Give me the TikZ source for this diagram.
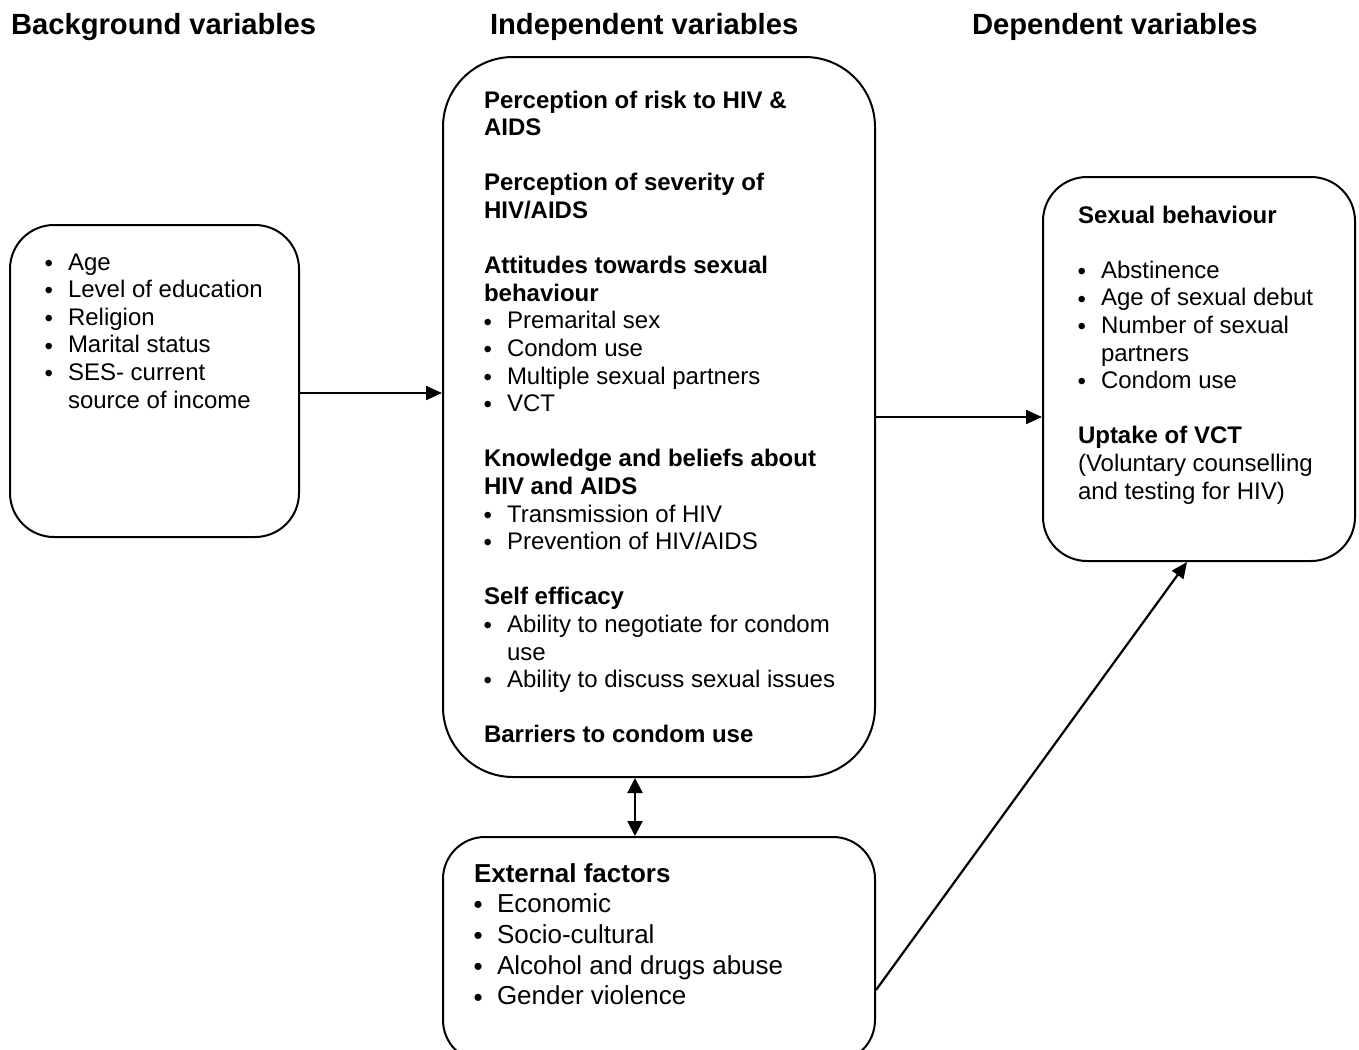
\documentclass[tikz,border=0pt]{standalone}
\usepackage{fontspec}
\usepackage{graphicx}
\setmainfont{Liberation Sans}
\usetikzlibrary{arrows.meta}
\newcommand{\bitem}[1]{\hbox{\makebox[11.5pt][l]{\hspace{-0.2pt}\raisebox{-0.6pt}{\scalebox{1.0}{•}}}#1}}
\newcommand{\bcont}[1]{\hbox{\hspace*{11.5pt}#1}}
\newcommand{\bhead}[1]{\hbox{\bfseries #1}}
\newcommand{\blank}{\hbox{}}
\begin{document}
\begin{tikzpicture}[x=0.5pt,y=-0.5pt,line width=1pt,
  box/.style={draw,line width=1pt,inner sep=0pt},
  txt/.style={inner sep=0pt,anchor=base west,font=\fontsize{12}{13.8}\selectfont},
  bigtxt/.style={inner sep=0pt,anchor=base west,font=\fontsize{13}{15.35}\selectfont},
  head/.style={inner sep=0pt,anchor=base west,font=\fontsize{14.6}{18}\selectfont\bfseries},
  arr/.style={line width=1.1pt,-{Triangle[length=8pt,width=7pt]}},
  darr/.style={line width=1.1pt,{Triangle[length=7.5pt,width=7.5pt]}-{Triangle[length=7.5pt,width=7.5pt]}}]
\useasboundingbox (0,0) rectangle (1359,1049);
\clip (0,0) rectangle (1359,1049);
\fill[white] (0,0) rectangle (1359,1049);

% headings
\node[head] (h1) at (10,34) {Background variables};
\node[head] (h2) at (489,34) {Independent variables};
\node[head] (h3) at (971,34) {Dependent variables};

% boxes
\node[box,rounded corners=22pt,minimum width=144.5pt,minimum height=156pt] (bg) at (154.5,381) {};
\node[box,rounded corners=35pt,minimum width=216pt,minimum height=360pt] (mid) at (659,417) {};
\node[box,rounded corners=22pt,minimum width=156pt,minimum height=192pt] (dep) at (1199,369) {};
\node[box,rounded corners=21pt,minimum width=216pt,minimum height=112.5pt] (ext) at (659,949.5) {};

% texts
\node[txt] (bgtext) at (44,270) {\vtop{%
  \bitem{Age}
  \bitem{Level of education}
  \bitem{Religion}
  \bitem{Marital status}
  \bitem{SES- current}
  \bcont{source of income}}};

\node[txt] (midtext) at (483,108) {\vtop{%
  \bhead{Perception of risk to HIV \&}
  \bhead{AIDS}
  \blank
  \bhead{Perception of severity of}
  \bhead{HIV/AIDS}
  \blank
  \bhead{Attitudes towards sexual}
  \bhead{behaviour}
  \bitem{Premarital sex}
  \bitem{Condom use}
  \bitem{Multiple sexual partners}
  \bitem{VCT}
  \blank
  \bhead{Knowledge and beliefs about}
  \bhead{HIV and AIDS}
  \bitem{Transmission of HIV}
  \bitem{Prevention of HIV/AIDS}
  \blank
  \bhead{Self efficacy}
  \bitem{Ability to negotiate for condom}
  \bcont{use}
  \bitem{Ability to discuss sexual issues}
  \blank
  \bhead{Barriers to condom use}}};

\node[txt] (deptext) at (1077,223) {\vtop{%
  \bhead{Sexual behaviour}
  \blank
  \bitem{Abstinence}
  \bitem{Age of sexual debut}
  \bitem{Number of sexual}
  \bcont{partners}
  \bitem{Condom use}
  \blank
  \bhead{Uptake of VCT}
  \hbox{(Voluntary counselling}
  \hbox{and testing for HIV)}}};

\node[bigtxt] (exttext) at (473,882) {\vtop{%
  \bhead{External factors}
  \bitem{Economic}
  \bitem{Socio-cultural}
  \bitem{Alcohol and drugs abuse}
  \bitem{Gender violence}}};

% connectors
\draw[arr] ([yshift=-6pt]bg.east) -- ([yshift=-6pt]bg.east -| mid.west);
\draw[arr] (mid.east) -- (mid.east -| dep.west);
\draw[darr] ([xshift=-12pt]mid.south) -- ([xshift=-12pt]ext.north);
\draw[arr] ([yshift=-20.25pt]ext.east) -- ([xshift=-6pt]dep.south);
\end{tikzpicture}
\end{document}
